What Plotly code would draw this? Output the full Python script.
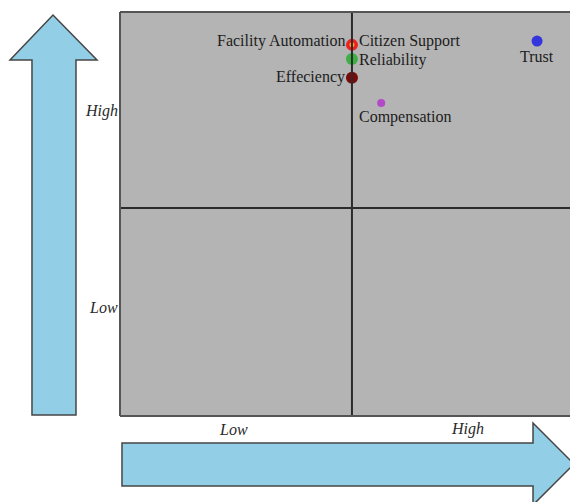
import plotly.graph_objects as go

# Data
factors = ["Facility Automation", "Citizen Support", "Reliability", "Effeciency", "Compensation", "Trust"]
x_vals = [5.0, 5.0, 5.0, 5.0, 5.63, 8.99]
y_vals = [8.92, 8.92, 8.58, 8.13, 7.52, 9.01]
colors = ["#f02020", "#ffa020", "#3cb043", "#7a0a0a", "#b24ac8", "#3535dd"]
sizes = [12, 5, 12, 12, 8, 11]
label_xshift = [-5, 5, 5, -5, 0, 0]
label_yshift = [4, 4, -1, 1, -14, -15]
label_anchor = ["right", "left", "left", "right", "center", "center"]
label_xoff = [0, 0, 0, 0, 0.52, 0]

axis_tick_y = ["High", "Low"]
axis_tick_x = ["Low", "High"]

W, H = 570, 502
L, T = 120, 12
BOT = 416
B = H - BOT
PW, PH = W - L, BOT - T


def px(xp):
    return (xp - L) / PW


def py(yp):
    return (BOT - yp) / PH


def path(points):
    return "M " + " L ".join(f"{px(a):.4f},{py(b):.4f}" for a, b in points) + " Z"


fig = go.Figure()
fig.add_trace(go.Scatter(
    x=x_vals, y=y_vals, mode="markers",
    marker=dict(color=colors, size=sizes, opacity=1, line=dict(width=0)),
    hoverinfo="text", text=factors, showlegend=False,
))

annotations = []
for f, xv, yv, xs, ys, an, xo in zip(factors, x_vals, y_vals, label_xshift, label_yshift, label_anchor, label_xoff):
    annotations.append(dict(
        x=xv + xo, y=yv, xref="x", yref="y", text=f, showarrow=False,
        xanchor=an, yanchor="middle", xshift=xs, yshift=ys,
        font=dict(family="Liberation Serif", size=16, color="#1c1c1c"),
    ))

italic = dict(family="Liberation Serif", size=16, color="#2a2a2a", style="italic")
annotations.append(dict(x=px(101), y=py(111), xref="paper", yref="paper", text=axis_tick_y[0],
                        showarrow=False, font=italic, xanchor="center", yanchor="middle"))
annotations.append(dict(x=px(103), y=py(307), xref="paper", yref="paper", text=axis_tick_y[1],
                        showarrow=False, font=italic, xanchor="center", yanchor="middle"))
annotations.append(dict(x=px(233), y=py(429), xref="paper", yref="paper", text=axis_tick_x[0],
                        showarrow=False, font=italic, xanchor="center", yanchor="middle"))
annotations.append(dict(x=px(467), y=py(429), xref="paper", yref="paper", text=axis_tick_x[1],
                        showarrow=False, font=italic, xanchor="center", yanchor="middle"))

arrow_style = dict(fillcolor="#92cfe6", line=dict(color="#454545", width=1.5), layer="above")
shapes = [
    # quadrant lines
    dict(type="line", xref="x", yref="paper", x0=5, x1=5, y0=0, y1=1, line=dict(color="#2b2b2b", width=2)),
    dict(type="line", xref="paper", yref="y", x0=0, x1=1, y0=5, y1=5, line=dict(color="#2b2b2b", width=2)),
    # border (left, top, bottom)
    dict(type="line", xref="paper", yref="paper", x0=0, x1=0, y0=0, y1=1, line=dict(color="#555555", width=2)),
    dict(type="line", xref="paper", yref="paper", x0=0, x1=1.02, y0=1, y1=1, line=dict(color="#555555", width=2)),
    dict(type="line", xref="paper", yref="paper", x0=0, x1=1.02, y0=0, y1=0, line=dict(color="#555555", width=2)),
    # arrows
    dict(type="path", xref="paper", yref="paper",
         path=path([(32, 415), (32, 60), (10, 60), (53, 15), (97, 60), (76, 60), (76, 415)]), **arrow_style),
    dict(type="path", xref="paper", yref="paper",
         path=path([(122, 486), (122, 443), (533, 443), (533, 423), (574, 464), (533, 505), (533, 486)]), **arrow_style),
]

fig.update_layout(
    width=W, height=H,
    margin=dict(l=L, r=0, t=T, b=B),
    paper_bgcolor="white", plot_bgcolor="#b4b4b4",
    xaxis=dict(range=[0, 9.7], showgrid=False, zeroline=False, showticklabels=False, ticks=""),
    yaxis=dict(range=[0, 9.71], showgrid=False, zeroline=False, showticklabels=False, ticks=""),
    annotations=annotations, shapes=shapes, showlegend=False,
)

fig.write_html(
    "out.html",
    config={"displayModeBar": False},
    post_script="document.body.style.margin='0';document.body.style.overflow='hidden';",
)
